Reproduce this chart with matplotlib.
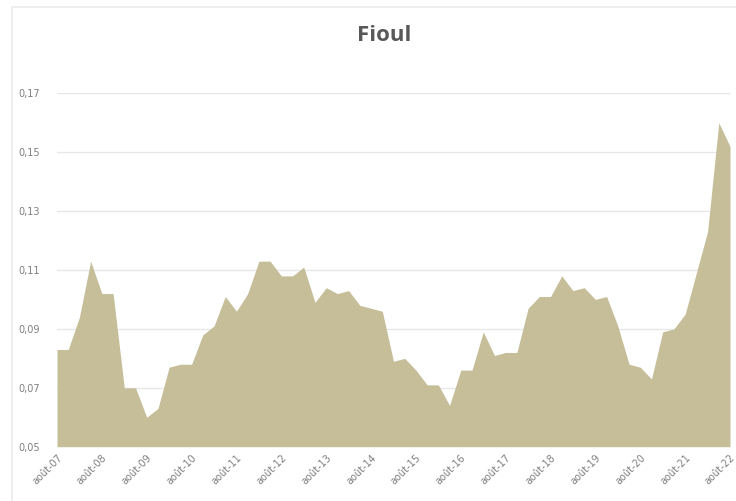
import numpy as np
import matplotlib.pyplot as plt
from matplotlib.ticker import FuncFormatter
from matplotlib.patches import Rectangle

# quarterly values, août-07 .. août-22
values = [
    0.083, 0.083, 0.094, 0.113, 0.102, 0.102, 0.070, 0.070, 0.060, 0.063,
    0.077, 0.078, 0.078, 0.088, 0.091, 0.101, 0.096, 0.102, 0.113, 0.113,
    0.108, 0.108, 0.111, 0.099, 0.104, 0.102, 0.103, 0.098, 0.097, 0.096,
    0.079, 0.080, 0.076, 0.071, 0.071, 0.064, 0.076, 0.076, 0.089, 0.081,
    0.082, 0.082, 0.097, 0.101, 0.101, 0.108, 0.103, 0.104, 0.100, 0.101,
    0.091, 0.078, 0.077, 0.073, 0.089, 0.090, 0.095, 0.109, 0.123, 0.160,
    0.152,
]
years = ["07", "08", "09", "10", "11", "12", "13", "14", "15", "16",
         "17", "18", "19", "20", "21", "22"]
tick_labels = ["août-" + y for y in years]
y_ticks = [0.05, 0.07, 0.09, 0.11, 0.13, 0.15, 0.17]

x = np.arange(len(values))

fig = plt.figure(figsize=(7.36, 5.01), dpi=100)
fig.patches.append(Rectangle((12 / 736, -0.01), 1.0, 1 - 7 / 501 + 0.01,
                             transform=fig.transFigure, fill=False,
                             edgecolor="#EBEBEB", linewidth=1.2))
ax = fig.add_axes([57 / 736, 54.3 / 501, 673 / 736, 353.4 / 501])

ax.fill_between(x, 0.05, values, color="#C5BE99", linewidth=0)
ax.set_xlim(0, len(values) - 1)
ax.set_ylim(0.05, 0.17)

ax.set_yticks(y_ticks)
ax.yaxis.set_major_formatter(FuncFormatter(lambda v, p: f"{v:.2f}".replace(".", ",")))
ax.set_xticks(x[::4])
ax.set_xticklabels(tick_labels, rotation=45, ha="right", rotation_mode="anchor")

ax.grid(axis="y", color="#E6E6E6", linewidth=0.9)
ax.set_axisbelow(True)
for s in ax.spines.values():
    s.set_visible(False)
ax.tick_params(axis="both", length=0, labelsize=7, colors="#7F7F7F")
ax.tick_params(axis="y", pad=12)
ax.tick_params(axis="x", pad=4)

fig.text(0.522, 0.93, "Fioul", ha="center", va="center", fontsize=16,
         fontweight="bold", color="#595959", family=["Open Sans", "DejaVu Sans"])

fig.savefig("out.png", dpi=100)
